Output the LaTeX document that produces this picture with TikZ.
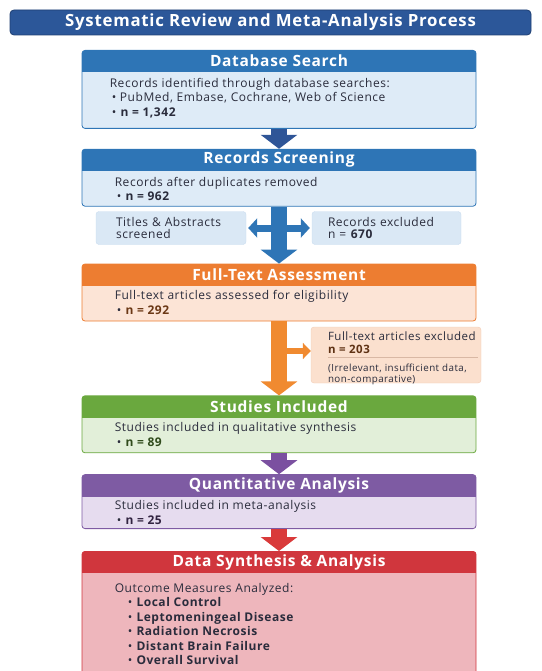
\documentclass[tikz,border=0pt]{standalone}
\usepackage{fontspec}
\setmainfont{Open Sans}[LetterSpace=4.5]
\usetikzlibrary{positioning,calc,arrows.meta}
\definecolor{textdark}{HTML}{2A2C3C}
\definecolor{titlefill}{HTML}{2C5799}
\definecolor{titleline}{HTML}{1E3E72}
\definecolor{bluehead}{HTML}{2E75B6}
\definecolor{bluebody}{HTML}{DEEBF7}
\definecolor{bluearrow}{HTML}{2F5597}
\definecolor{sidefill}{HTML}{DAE8F5}
\definecolor{sideline}{HTML}{C9DCEF}
\definecolor{orangehead}{HTML}{ED7D31}
\definecolor{orangebody}{HTML}{FCE4D6}
\definecolor{orangearrow}{HTML}{F08A30}
\definecolor{orangeside}{HTML}{FBE0CE}
\definecolor{orangeline}{HTML}{F3CDB5}
\definecolor{orangerule}{HTML}{D9B8A4}
\definecolor{greenhead}{HTML}{6AA83E}
\definecolor{greenbody}{HTML}{E2EFD9}
\definecolor{purplehead}{HTML}{7E5BA3}
\definecolor{purplebody}{HTML}{E6DCEF}
\definecolor{purplearrow}{HTML}{7B50A0}
\definecolor{redhead}{HTML}{D0363D}
\definecolor{redbody}{HTML}{EEB6BC}
\definecolor{redarrow}{HTML}{D93A3A}
\tikzset{
  figfont/.style={font=\fontsize{12}{14.5}\selectfont, text=textdark},
  titlebar/.style={draw=titleline, fill=titlefill, line width=0.8pt, rounded corners=4pt,
    minimum width=521pt, minimum height=25pt, text=white,
    font=\bfseries\fontsize{16.8}{18}\selectfont},
  stagebox/.style={draw=#1, line width=0.8pt, rounded corners=3pt, minimum width=394pt,
    inner sep=0pt,
    path picture={\fill[#1, sharp corners] (path picture bounding box.north west)
      rectangle ([yshift=-22pt]path picture bounding box.north east);}},
  stagehead/.style={font=\bfseries\fontsize{15.5}{17}\selectfont, text=white},
  stagetext/.style={align=left, inner sep=0pt, anchor=north west},
  sidebox/.style={fill=sidefill, draw=sideline, rounded corners=3pt, align=left,
    font=\fontsize{12}{12}\selectfont, text width=110pt, inner xsep=20pt,
    minimum height=33pt, inner ysep=0pt},
  exclbox/.style={fill=orangeside, draw=orangeline, rounded corners=3pt,
    minimum width=170pt, minimum height=56pt, inner sep=0pt},
  notetext/.style={stagetext, font=\fontsize{9.8}{11}\selectfont},
  flowarrow/.style={-{Triangle[length=14pt,width=36pt]}, line width=16pt},
  sidearrow/.style={{Triangle[length=9pt,width=19pt]}-{Triangle[length=9pt,width=19pt]},
    line width=7pt, shorten <=2pt, shorten >=2pt},
  brancharrow/.style={-{Triangle[length=8pt,width=16pt]}, line width=6pt},
}

\begin{document}
\begin{tikzpicture}[figfont, x=1pt, y=-1pt]
  \useasboundingbox (0,0) rectangle (541,671);

  % Title
  \node[titlebar] (title) at (270.5,22.5) {Systematic Review and Meta-Analysis Process};

  % Stage boxes
  \node[stagebox=bluehead, fill=bluebody, minimum height=78pt, anchor=north] (search) at (279,50) {};
  \node[stagebox=bluehead, fill=bluebody, minimum height=57pt, below=20pt of search] (screen) {};
  \node[stagebox=orangehead, fill=orangebody, minimum height=57pt, below=57pt of screen] (fulltext) {};
  \node[stagebox=greenhead, fill=greenbody, minimum height=57pt, below=74pt of fulltext] (studies) {};
  \node[stagebox=purplehead, fill=purplebody, minimum height=54pt, below=21pt of studies] (quant) {};
  \node[stagebox=redhead, fill=redbody, minimum height=132pt, below=22pt of quant] (synth) {};

  % Stage headings
  \node[stagehead] (searchhd) at ([yshift=-11pt]search.north) {Database Search};
  \node[stagehead] (screenhd) at ([yshift=-11pt]screen.north) {Records Screening};
  \node[stagehead] (fulltexthd) at ([yshift=-11pt]fulltext.north) {Full-Text Assessment};
  \node[stagehead] (studieshd) at ([yshift=-11pt]studies.north) {Studies Included};
  \node[stagehead] (quanthd) at ([yshift=-11pt]quant.north) {Quantitative Analysis};
  \node[stagehead] (synthhd) at ([yshift=-11pt]synth.north) {Data Synthesis \& Analysis};

  % Stage contents
  \node[stagetext] (searchtxt) at ([xshift=28pt,yshift=-28pt]search.north west)
    {Records identified through database searches:\\
     \hspace*{2pt}\textbullet\ PubMed, Embase, Cochrane, Web of Science\\
     \hspace*{2pt}\textbullet\ \textbf{n = 1,342}};
  \node[stagetext] (screentxt) at ([xshift=33pt,yshift=-28pt]screen.north west)
    {Records after duplicates removed\\
     \hspace*{2pt}\textbullet\ \textbf{n = 962}};
  \node[stagetext] (fulltexttxt) at ([xshift=33pt,yshift=-27pt]fulltext.north west)
    {Full-text articles assessed for eligibility\\
     \hspace*{2pt}\textbullet\ \textbf{\color{orangehead!45!black}n = 292}};
  \node[stagetext] (studiestxt) at ([xshift=33pt,yshift=-27pt]studies.north west)
    {Studies included in qualitative synthesis\\
     \hspace*{2pt}\textbullet\ \textbf{\color{greenhead!45!black}n = 89}};
  \node[stagetext] (quanttxt) at ([xshift=33pt,yshift=-26pt]quant.north west)
    {Studies included in meta-analysis\\
     \hspace*{2pt}\textbullet\ \textbf{\color{purplehead!40!black}n = 25}};
  \node[stagetext] (synthtxt) at ([xshift=33pt,yshift=-32pt]synth.north west)
    {Outcome Measures Analyzed:\\
     \hspace*{13pt}\textbullet\ \textbf{Local Control}\\
     \hspace*{13pt}\textbullet\ \textbf{Leptomeningeal Disease}\\
     \hspace*{13pt}\textbullet\ \textbf{Radiation Necrosis}\\
     \hspace*{13pt}\textbullet\ \textbf{Distant Brain Failure}\\
     \hspace*{13pt}\textbullet\ \textbf{Overall Survival}};

  % Side boxes
  \node[sidebox] (titles) at (171,228) {Titles \& Abstracts\\screened};
  \node[sidebox, inner xsep=16pt, text width=117pt] (recexcl) at (386.5,228)
    {Records excluded\\n = \textbf{670}};

  % Full-text exclusions
  \node[exclbox] (ftexcl) at (396,355) {};
  \node[stagetext, font=\fontsize{11.5}{13}\selectfont] (ftexcltxt)
    at ([xshift=17pt,yshift=-4.5pt]ftexcl.north west)
    {Full-text articles excluded\\\textbf{\color{orangehead!40!black}n = 203}};
  \coordinate (ftrulel) at ([xshift=17pt,yshift=-30.5pt]ftexcl.north west);
  \coordinate (ftruler) at ([xshift=-3pt,yshift=-30.5pt]ftexcl.north east);
  \draw[orangerule, line width=0.6pt] (ftrulel) -- (ftruler);
  \node[notetext] (ftexclnote) at ([yshift=-6pt]ftrulel)
    {(Irrelevant, insufficient data,\\non-comparative)};

  % Flow arrows
  \draw[flowarrow, bluearrow] (search.south) -- (screen.north);
  \draw[flowarrow, bluehead] (screen.south) -- (fulltext.north);
  \draw[sidearrow, bluehead] (titles.east) -- (recexcl.west);
  \draw[flowarrow, orangearrow] (fulltext.south) -- (studies.north);
  \coordinate (ftbranch) at ($(fulltext.south)!0.4!(studies.north)$);
  \draw[brancharrow, orangearrow] (ftbranch) -- (ftbranch -| ftexcl.west);
  \draw[flowarrow, purplearrow] (studies.south) -- (quant.north);
  \draw[flowarrow, redarrow] (quant.south) -- (synth.north);
\end{tikzpicture}
\end{document}
